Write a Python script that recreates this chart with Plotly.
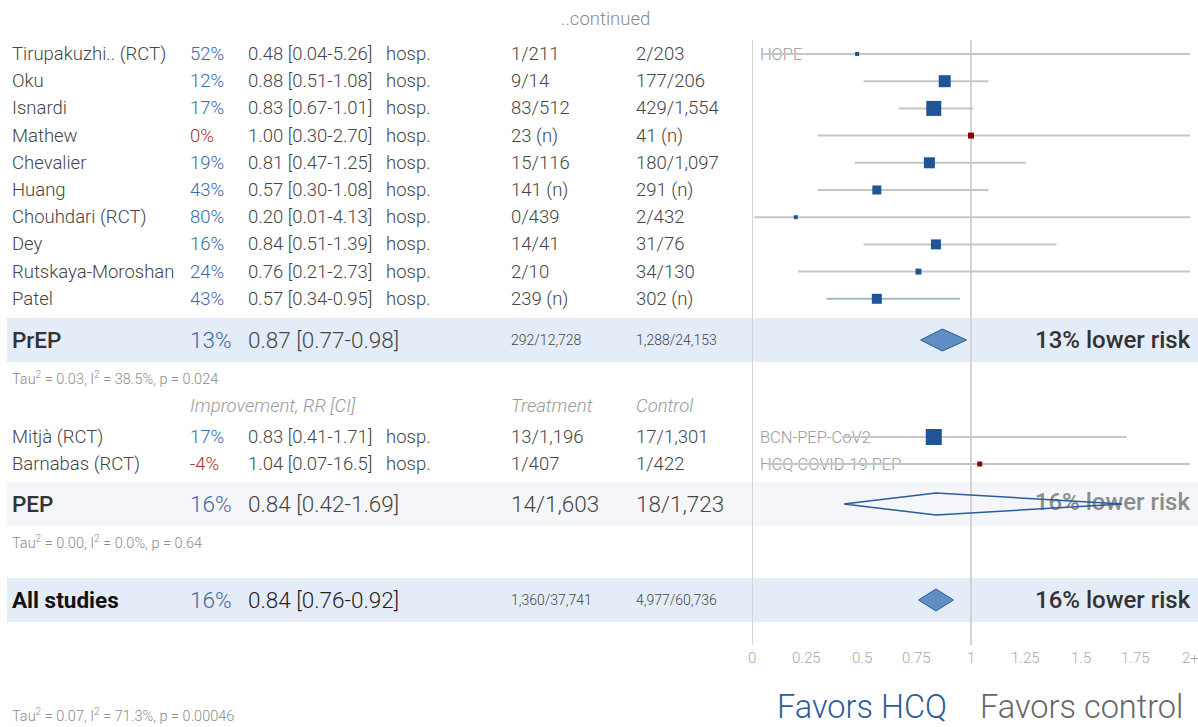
import plotly.graph_objects as go

# ---- study data -------------------------------------------------------
prep_names = ["Tirupakuzhi.. (RCT)", "Oku", "Isnardi", "Mathew", "Chevalier",
              "Huang", "Chouhdari (RCT)", "Dey", "Rutskaya-Moroshan", "Patel"]
prep_rr = [0.48, 0.88, 0.83, 1.00, 0.81, 0.57, 0.20, 0.84, 0.76, 0.57]
prep_lo = [0.04, 0.51, 0.67, 0.30, 0.47, 0.30, 0.01, 0.51, 0.21, 0.34]
prep_hi = [5.26, 1.08, 1.01, 2.70, 1.25, 1.08, 4.13, 1.39, 2.73, 0.95]
prep_trt = ["1/211", "9/14", "83/512", "23 (n)", "15/116", "141 (n)", "0/439",
            "14/41", "2/10", "239 (n)"]
prep_ctl = ["2/203", "177/206", "429/1,554", "41 (n)", "180/1,097", "291 (n)",
            "2/432", "31/76", "34/130", "302 (n)"]
prep_weight = [4, 12, 15, 6, 11, 9, 4, 10, 6, 10]
prep_trial = ["HOPE", "", "", "", "", "", "", "", "", ""]

pep_names = ["Mitjà (RCT)", "Barnabas (RCT)"]
pep_rr = [0.83, 1.04]
pep_lo = [0.41, 0.07]
pep_hi = [1.71, 16.5]
pep_trt = ["13/1,196", "1/407"]
pep_ctl = ["17/1,301", "1/422"]
pep_weight = [16, 5]
pep_trial = ["BCN-PEP-CoV2", "HCQ COVID-19 PEP"]

outcome = "hosp."

# ---- pooled estimates -------------------------------------------------
summary_names = ["PrEP", "PEP", "All studies"]
summary_rr = [0.87, 0.84, 0.84]
summary_lo = [0.77, 0.42, 0.76]
summary_hi = [0.98, 1.69, 0.92]
summary_trt = ["292/12,728", "14/1,603", "1,360/37,741"]
summary_ctl = ["1,288/24,153", "18/1,723", "4,977/60,736"]
heterogeneity = ["Tau<sup>2</sup> = 0.03, I<sup>2</sup> = 38.5%, p = 0.024",
                 "Tau<sup>2</sup> = 0.00, I<sup>2</sup> = 0.0%, p = 0.64",
                 "Tau<sup>2</sup> = 0.07, I<sup>2</sup> = 71.3%, p = 0.00046"]

axis_ticks = [0, 0.25, 0.5, 0.75, 1, 1.25, 1.5, 1.75, 2]
axis_ticktext = ["0", "0.25", "0.5", "0.75", "1", "1.25", "1.5", "1.75", "2+"]
x_max = 2.0

# ---- layout constants (pixels) -----------------------------------------
W, H = 1198, 727
FONT = "Roboto"
GREY = "#454545"
LIGHT = "#9a9a9a"
BLUE_TXT = "#3a6aa8"
RED_TXT = "#a83232"
SQ_BLUE = "#1f5596"
SQ_RED = "#8b0000"
BAND_BLUE = "#e4ecf7"
BAND_GREY = "#f4f6f9"
BASE = 18.5
BIG = 22.5

ROW0, ROW_H = 54, 27.2
prep_y = [ROW0 + ROW_H * i for i in range(len(prep_names))]
pep_y = [437 + 27 * i for i in range(len(pep_names))]
summary_y = [340, 504, 600]
tau_y = [378, 542, 715]
header_y = 406

COL_NAME, COL_PCT, COL_RR, COL_OUT, COL_TRT, COL_CTL = 11, 189, 247, 385, 510, 635


def fmt(v):
    return f"{v:.1f}" if v >= 10 else f"{v:.2f}"


def rr_label(rr, lo, hi):
    return f"{fmt(rr)} [{fmt(lo)}-{fmt(hi)}]"


def pct(rr):
    return f"{round((1 - rr) * 100):d}%"


fig = go.Figure()
annotations = []


def txt(x, y, s, size=BASE, color=GREY, weight=300, italic=False, anchor="left", xref="paper"):
    if italic:
        s = f"<i>{s}</i>"
    annotations.append(dict(
        x=x / W if xref == "paper" else x, y=y, xref=xref, yref="y", text=s,
        showarrow=False, xanchor=anchor, yanchor="middle",
        font=dict(family=FONT, size=size, color=color, weight=weight), borderpad=0,
    ))


# ---- background bands and reference lines ------------------------------
shapes = []
for yc, col in zip(summary_y, [BAND_BLUE, BAND_GREY, BAND_BLUE]):
    shapes.append(dict(type="rect", xref="paper", yref="y", x0=7 / W, x1=1,
                       y0=yc - 22, y1=yc + 22, fillcolor=col, line_width=0, layer="below"))
for xv in (0, 1):
    shapes.append(dict(type="line", xref="x", yref="y", x0=xv, x1=xv, y0=40, y1=645,
                       line=dict(color="#d3d3d3", width=2), layer="below"))

# ---- trial labels sit underneath the CI lines ---------------------------
trial_y = [y + 1.5 for t, y in zip(prep_trial + pep_trial, prep_y + pep_y) if t]
trial_t = [t for t in prep_trial + pep_trial if t]
fig.add_trace(go.Scatter(
    x=[0.036] * len(trial_t), y=trial_y, text=trial_t, mode="text",
    textposition="middle right", cliponaxis=False,
    textfont=dict(family=FONT, size=16.5, color="#999999", weight=300), hoverinfo="skip",
))

# PEP pooled result label, drawn beneath its hollow diamond
fig.add_trace(go.Scatter(
    x=[x_max], y=[summary_y[1]], text=[f"{pct(summary_rr[1])} lower risk"],
    mode="text", textposition="middle left", cliponaxis=False,
    textfont=dict(family=FONT, size=24, color="#8c8c8c", weight=500), hoverinfo="skip",
))

# ---- confidence intervals ---------------------------------------------
all_rr = prep_rr + pep_rr
all_lo = prep_lo + pep_lo
all_hi = prep_hi + pep_hi
all_y = prep_y + pep_y
all_w = prep_weight + pep_weight
highlight = {"Patel"}
for name, lo, hi, y in zip(prep_names + pep_names, all_lo, all_hi, all_y):
    fig.add_trace(go.Scatter(
        x=[lo, min(hi, x_max)], y=[y, y], mode="lines",
        line=dict(color="#a4b8d4" if name in highlight else "#c6c6c6", width=2),
        hoverinfo="skip",
    ))

fig.add_trace(go.Scatter(
    x=all_rr, y=all_y, mode="markers",
    marker=dict(symbol="square", size=all_w, opacity=1,
                color=[SQ_RED if r >= 1 else SQ_BLUE for r in all_rr], line_width=0),
    hoverinfo="skip",
))

# ---- pooled diamonds ----------------------------------------------------
for i, (rr, lo, hi, yc) in enumerate(zip(summary_rr, summary_lo, summary_hi, summary_y)):
    hollow = i == 1
    fig.add_trace(go.Scatter(
        x=[lo, rr, hi, rr, lo], y=[yc, yc - 11, yc, yc + 11, yc], mode="lines",
        fill="toself", fillcolor="rgba(0,0,0,0)" if hollow else "#5f8fc4",
        line=dict(color="#2b5c9a", width=1.5 if hollow else 1), hoverinfo="skip",
    ))

# ---- table text ---------------------------------------------------------
txt(605, 19, "..continued", color="#8a8a8a", anchor="center")


def study_rows(names, rrs, los, his, trts, ctls, ys):
    for n, r, lo, hi, t, c, y in zip(names, rrs, los, his, trts, ctls, ys):
        txt(COL_NAME, y, n)
        txt(COL_PCT, y, pct(r), color=RED_TXT if r >= 1 else BLUE_TXT)
        txt(COL_RR, y, rr_label(r, lo, hi))
        txt(COL_OUT, y, outcome)
        txt(COL_TRT, y, t)
        txt(COL_CTL, y, c)


study_rows(prep_names, prep_rr, prep_lo, prep_hi, prep_trt, prep_ctl, prep_y)
study_rows(pep_names, pep_rr, pep_lo, pep_hi, pep_trt, pep_ctl, pep_y)

txt(COL_PCT, header_y, "Improvement, RR [CI]", color=LIGHT, italic=True)
txt(COL_TRT, header_y, "Treatment", color=LIGHT, italic=True)
txt(COL_CTL, header_y, "Control", color=LIGHT, italic=True)

for i, (n, r, lo, hi, t, c, y) in enumerate(zip(summary_names, summary_rr, summary_lo, summary_hi,
                                                 summary_trt, summary_ctl, summary_y)):
    last = i == 2
    main = "#111111" if last else "#333333"
    txt(COL_NAME, y, n, size=BIG, color=main, weight=700 if last else 500)
    txt(COL_PCT, y, pct(r), size=BIG, color=BLUE_TXT)
    txt(COL_RR, y, rr_label(r, lo, hi), size=BIG, color="#1e1e1e" if last else GREY)
    count_size = BIG if i == 1 else 14
    txt(COL_TRT, y, t, size=count_size)
    txt(COL_CTL, y, c, size=count_size)
    if i != 1:
        txt(1192, y, f"{pct(r)} lower risk", size=24, color="#333333", weight=500, anchor="right")

for s, y in zip(heterogeneity, tau_y):
    txt(COL_NAME, y, s, size=14.5, color="#8a8a8a")

for v, lab in zip(axis_ticks, axis_ticktext):
    txt(v, 658, lab, size=15, color="#a8a8a8", anchor="center", xref="x")

txt(862, 707, "Favors HCQ", size=32.5, color="#2b5c9a", anchor="center")
txt(1081, 707, "Favors control", size=32.5, color="#666666", anchor="center")

fig.update_layout(
    width=W, height=H, margin=dict(l=0, r=0, t=0, b=0),
    paper_bgcolor="white", plot_bgcolor="rgba(0,0,0,0)",
    showlegend=False, shapes=shapes, annotations=annotations,
    xaxis=dict(domain=[752 / W, 1190 / W], range=[0, x_max], visible=False, fixedrange=True),
    yaxis=dict(domain=[0, 1], range=[H, 0], visible=False, fixedrange=True),
)

fig.write_html("out.html")
